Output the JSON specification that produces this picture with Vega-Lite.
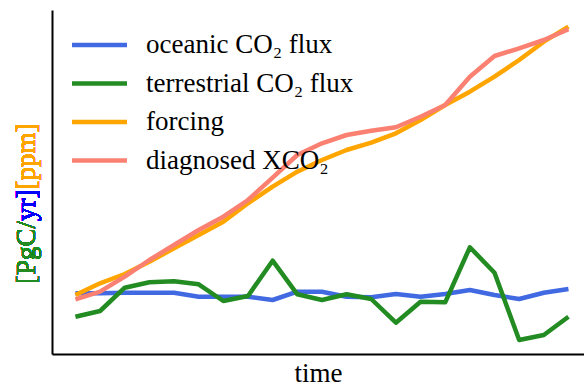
{
  "$schema": "https://vega.github.io/schema/vega-lite/v6.json",
  "width": 532,
  "height": 344,
  "autosize": {"type": "none"},
  "padding": {"left": 52, "top": 10, "right": 0, "bottom": 34},
  "config": {
    "view": {"stroke": null},
    "font": "Liberation Serif",
    "axis": {"domainColor": "black", "domainWidth": 2, "ticks": false, "labels": false, "grid": false}
  },
  "data": {"values": [
    {"t":0,"s":"oceanic CO₂ flux","v":60.7},{"t":1,"s":"oceanic CO₂ flux","v":60.7},{"t":2,"s":"oceanic CO₂ flux","v":61.3},{"t":3,"s":"oceanic CO₂ flux","v":61.3},{"t":4,"s":"oceanic CO₂ flux","v":61.3},{"t":5,"s":"oceanic CO₂ flux","v":57.3},{"t":6,"s":"oceanic CO₂ flux","v":57.3},{"t":7,"s":"oceanic CO₂ flux","v":57.3},{"t":8,"s":"oceanic CO₂ flux","v":54},{"t":9,"s":"oceanic CO₂ flux","v":62.3},{"t":10,"s":"oceanic CO₂ flux","v":62.3},{"t":11,"s":"oceanic CO₂ flux","v":57.3},{"t":12,"s":"oceanic CO₂ flux","v":56.7},{"t":13,"s":"oceanic CO₂ flux","v":60},{"t":14,"s":"oceanic CO₂ flux","v":57.3},{"t":15,"s":"oceanic CO₂ flux","v":60},{"t":16,"s":"oceanic CO₂ flux","v":64},{"t":17,"s":"oceanic CO₂ flux","v":59},{"t":18,"s":"oceanic CO₂ flux","v":55},{"t":19,"s":"oceanic CO₂ flux","v":61.3},{"t":20,"s":"oceanic CO₂ flux","v":65},
    {"t":0,"s":"terrestrial CO₂ flux","v":37.3},{"t":1,"s":"terrestrial CO₂ flux","v":43},{"t":2,"s":"terrestrial CO₂ flux","v":66.3},{"t":3,"s":"terrestrial CO₂ flux","v":71.7},{"t":4,"s":"terrestrial CO₂ flux","v":72.7},{"t":5,"s":"terrestrial CO₂ flux","v":69.7},{"t":6,"s":"terrestrial CO₂ flux","v":53},{"t":7,"s":"terrestrial CO₂ flux","v":58},{"t":8,"s":"terrestrial CO₂ flux","v":93.3},{"t":9,"s":"terrestrial CO₂ flux","v":59.7},{"t":10,"s":"terrestrial CO₂ flux","v":54},{"t":11,"s":"terrestrial CO₂ flux","v":59.7},{"t":12,"s":"terrestrial CO₂ flux","v":55},{"t":13,"s":"terrestrial CO₂ flux","v":31.3},{"t":14,"s":"terrestrial CO₂ flux","v":52.3},{"t":15,"s":"terrestrial CO₂ flux","v":51.7},{"t":16,"s":"terrestrial CO₂ flux","v":106.7},{"t":17,"s":"terrestrial CO₂ flux","v":81.3},{"t":18,"s":"terrestrial CO₂ flux","v":14},{"t":19,"s":"terrestrial CO₂ flux","v":19},{"t":20,"s":"terrestrial CO₂ flux","v":37.3},
    {"t":0,"s":"forcing","v":59},{"t":1,"s":"forcing","v":70.7},{"t":2,"s":"forcing","v":80},{"t":3,"s":"forcing","v":92.3},{"t":4,"s":"forcing","v":105.7},{"t":5,"s":"forcing","v":119},{"t":6,"s":"forcing","v":132.3},{"t":7,"s":"forcing","v":150.7},{"t":8,"s":"forcing","v":167.3},{"t":9,"s":"forcing","v":182.3},{"t":10,"s":"forcing","v":194},{"t":11,"s":"forcing","v":204},{"t":12,"s":"forcing","v":211.3},{"t":13,"s":"forcing","v":220.7},{"t":14,"s":"forcing","v":234},{"t":15,"s":"forcing","v":249},{"t":16,"s":"forcing","v":262.3},{"t":17,"s":"forcing","v":277.3},{"t":18,"s":"forcing","v":294},{"t":19,"s":"forcing","v":312.3},{"t":20,"s":"forcing","v":327.3},
    {"t":0,"s":"diagnosed XCO₂","v":54.7},{"t":1,"s":"diagnosed XCO₂","v":62.3},{"t":2,"s":"diagnosed XCO₂","v":77.3},{"t":3,"s":"diagnosed XCO₂","v":94},{"t":4,"s":"diagnosed XCO₂","v":109},{"t":5,"s":"diagnosed XCO₂","v":124},{"t":6,"s":"diagnosed XCO₂","v":137.3},{"t":7,"s":"diagnosed XCO₂","v":154},{"t":8,"s":"diagnosed XCO₂","v":176.3},{"t":9,"s":"diagnosed XCO₂","v":199},{"t":10,"s":"diagnosed XCO₂","v":210.7},{"t":11,"s":"diagnosed XCO₂","v":219},{"t":12,"s":"diagnosed XCO₂","v":223.3},{"t":13,"s":"diagnosed XCO₂","v":226.7},{"t":14,"s":"diagnosed XCO₂","v":237.3},{"t":15,"s":"diagnosed XCO₂","v":249},{"t":16,"s":"diagnosed XCO₂","v":277.3},{"t":17,"s":"diagnosed XCO₂","v":298},{"t":18,"s":"diagnosed XCO₂","v":305.7},{"t":19,"s":"diagnosed XCO₂","v":314},{"t":20,"s":"diagnosed XCO₂","v":324.7}
  ]},
  "layer": [
    {
      "mark": {"type": "line", "strokeWidth": 4.5, "strokeJoin": "round"},
      "encoding": {
        "x": {"field": "t", "type": "quantitative", "scale": {"domain": [-0.95, 20.63], "nice": false, "zero": false},
              "axis": {"title": "time", "titleFont": "Liberation Serif", "titleFontSize": 27, "titleFontWeight": "normal", "titleColor": "black", "titlePadding": 6}},
        "y": {"field": "v", "type": "quantitative", "scale": {"domain": [0, 344], "nice": false, "zero": false}, "axis": {"title": null}},
        "color": {"field": "s", "type": "nominal",
          "scale": {"domain": ["oceanic CO₂ flux", "terrestrial CO₂ flux", "forcing", "diagnosed XCO₂"], "range": ["#4169E1", "#228B22", "#FFA500", "#FA8072"]},
          "sort": ["oceanic CO₂ flux", "terrestrial CO₂ flux", "forcing", "diagnosed XCO₂"],
          "legend": {"title": null, "orient": "none", "legendX": 31.5, "legendY": 19, "padding": 0,
            "symbolType": "M-2,0H2", "symbolSize": 756, "symbolStrokeWidth": 4.5,
            "labelFont": "Liberation Serif", "labelFontSize": 27, "labelColor": "black", "labelOffset": 30.5, "labelLimit": 400, "rowPadding": 9.5}}
      }
    },
    {
      "mark": {"type": "text", "text": "[PgC/yr][ppm]", "angle": 270, "align": "left", "baseline": "alphabetic", "font": "Liberation Serif", "fontSize": 27, "color": "#FFA500"},
      "encoding": {"x": {"datum": -1.64}, "y": {"datum": 70}}
    },
    {
      "mark": {"type": "text", "text": "[PgC/yr]", "angle": 270, "align": "left", "baseline": "alphabetic", "font": "Liberation Serif", "fontSize": 27, "color": "#0000FF"},
      "encoding": {"x": {"datum": -1.64}, "y": {"datum": 70}}
    },
    {
      "mark": {"type": "text", "text": "[PgC/", "angle": 270, "align": "left", "baseline": "alphabetic", "font": "Liberation Serif", "fontSize": 27, "color": "#228B22"},
      "encoding": {"x": {"datum": -1.64}, "y": {"datum": 70}}
    }
  ]
}
